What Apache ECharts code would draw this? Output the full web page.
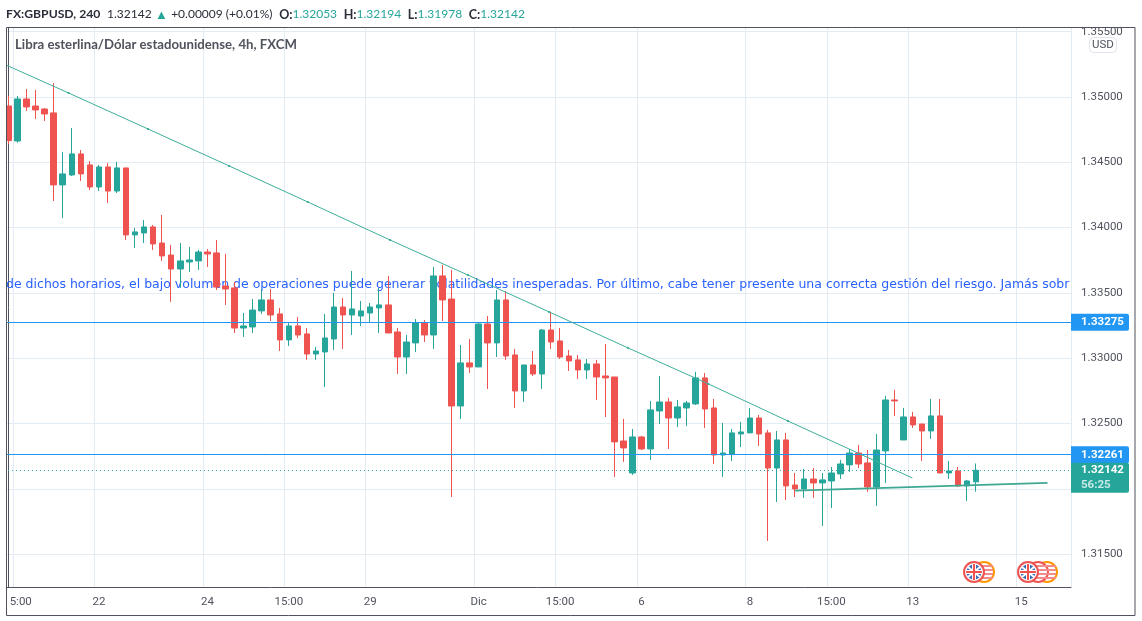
<!DOCTYPE html>
<html>
<head>
<meta charset="utf-8">
<style>
  html, body { margin: 0; padding: 0; background: #fff; }
  #chart { width: 1142px; height: 621px; }
</style>
<script src="https://cdn.jsdelivr.net/npm/echarts@6/dist/echarts.min.js"></script>
</head>
<body>
<div id="chart"></div>
<script>
// velas de 4h, GBPUSD
var opens = [1.34931,1.34663,1.34985,1.34931,1.34908,1.34878,1.34327,1.34403,1.34564,1.34480,1.34311,1.34464,1.34280,1.34457,1.33944,1.33959,1.34005,1.33882,1.33790,1.33683,1.33737,1.33745,1.33813,1.33806,1.33553,1.33538,1.33231,1.33239,1.33362,1.33446,1.33339,1.33140,1.33247,1.33186,1.33032,1.33048,1.33147,1.33392,1.33331,1.33323,1.33346,1.33385,1.33408,1.33201,1.33009,1.33117,1.33270,1.33178,1.33630,1.33453,1.32634,1.32964,1.32933,1.33262,1.33117,1.33446,1.33025,1.32749,1.32948,1.32879,1.33216,1.33132,1.33017,1.32987,1.32910,1.32956,1.32864,1.32856,1.32366,1.32121,1.32397,1.32305,1.32596,1.32665,1.32542,1.32619,1.32650,1.32849,1.32619,1.32259,1.32267,1.32420,1.32428,1.32542,1.32428,1.32159,1.32374,1.32029,1.31999,1.32075,1.32045,1.32060,1.32114,1.32183,1.32274,1.32198,1.32014,1.32290,1.32680,1.32374,1.32550,1.32496,1.32443,1.32558,1.32121,1.32137,1.32022,1.32053];
var closes = [1.34666,1.34985,1.34924,1.34901,1.34870,1.34327,1.34411,1.34564,1.34411,1.34311,1.34464,1.34280,1.34457,1.33944,1.33967,1.34005,1.33875,1.33783,1.33683,1.33745,1.33752,1.33813,1.33798,1.33545,1.33530,1.33231,1.33247,1.33369,1.33446,1.33331,1.33140,1.33247,1.33178,1.33032,1.33055,1.33155,1.33392,1.33331,1.33377,1.33362,1.33392,1.33408,1.33193,1.33009,1.33124,1.33270,1.33178,1.33630,1.33446,1.32634,1.32964,1.32933,1.33262,1.33117,1.33446,1.33017,1.32749,1.32948,1.32879,1.33216,1.33124,1.33009,1.32979,1.32910,1.32956,1.32856,1.32849,1.32359,1.32313,1.32397,1.32305,1.32604,1.32665,1.32542,1.32627,1.32657,1.32849,1.32611,1.32259,1.32274,1.32428,1.32435,1.32542,1.32420,1.32159,1.32374,1.32022,1.31999,1.32075,1.32045,1.32068,1.32121,1.32190,1.32274,1.32190,1.32014,1.32297,1.32680,1.32673,1.32550,1.32489,1.32443,1.32558,1.32121,1.32137,1.32022,1.32060,1.32142];
var lows = [1.34640,1.34650,1.34893,1.34832,1.34816,1.34204,1.34074,1.34395,1.34357,1.34288,1.34280,1.34189,1.34265,1.33905,1.33844,1.33882,1.33829,1.33745,1.33431,1.33538,1.33660,1.33676,1.33699,1.33522,1.33408,1.33193,1.33163,1.33193,1.33339,1.33285,1.33055,1.33094,1.33155,1.32987,1.32987,1.32780,1.33063,1.33071,1.33178,1.33247,1.33277,1.33193,1.33193,1.32879,1.32879,1.33048,1.33124,1.33071,1.33285,1.31937,1.32535,1.32887,1.32933,1.32764,1.33009,1.32987,1.32619,1.32665,1.32864,1.32764,1.33071,1.32994,1.32902,1.32841,1.32841,1.32680,1.32550,1.32091,1.32206,1.32106,1.32297,1.32221,1.32496,1.32305,1.32473,1.32481,1.32642,1.32466,1.32190,1.32091,1.32213,1.32320,1.32428,1.32328,1.31601,1.31899,1.31914,1.31937,1.31930,1.31930,1.31715,1.31853,1.32075,1.32129,1.32159,1.31976,1.31868,1.32045,1.32558,1.32374,1.32466,1.32213,1.32382,1.32121,1.32075,1.32014,1.31907,1.31978];
var highs = [1.35008,1.35008,1.35061,1.35054,1.34916,1.35107,1.34579,1.34763,1.34594,1.34510,1.34480,1.34495,1.34503,1.34457,1.33997,1.34058,1.34020,1.34097,1.33867,1.33882,1.33852,1.33829,1.33836,1.33905,1.33798,1.33584,1.33346,1.33453,1.33530,1.33530,1.33385,1.33277,1.33316,1.33231,1.33086,1.33339,1.33500,1.33461,1.33668,1.33438,1.33423,1.33538,1.33630,1.33231,1.33178,1.33300,1.33293,1.33699,1.33714,1.33676,1.33101,1.33147,1.33270,1.33323,1.33522,1.33515,1.33071,1.32948,1.33055,1.33224,1.33354,1.33231,1.33063,1.33025,1.32994,1.32987,1.33109,1.32856,1.32535,1.32458,1.32405,1.32673,1.32864,1.32696,1.32680,1.32673,1.32895,1.32887,1.32688,1.32504,1.32458,1.32512,1.32619,1.32565,1.32451,1.32443,1.32428,1.32121,1.32152,1.32159,1.32121,1.32167,1.32221,1.32305,1.32336,1.32297,1.32420,1.32711,1.32757,1.32619,1.32589,1.32496,1.32688,1.32688,1.32213,1.32167,1.32068,1.32194];

var barCount = 118; // incluye el hueco a la derecha de la ultima vela
var tickIndexes = [1,10,22,31,40,52,61,70,82,91,100,112];
var tickLabels = ['15:00','22','24','15:00','29','Dic','15:00','6','8','15:00','13','15'];
var priceTicks = [1.315,1.32,1.325,1.33,1.335,1.34,1.345,1.35,1.355];

var supportLevels = [1.33275,1.32261];
var lastPrice = 1.32142;
var countdown = '56:25';

// lineas de tendencia: [indice de vela, precio]
var trendDown = [[-0.27,1.35245],[6.64,1.35031],[15.43,1.34755],[24.4,1.34472],[33.1,1.34196],[42.2,1.33905],[50.8,1.33637],[59.8,1.33354],[68.5,1.33079],[77.4,1.32803],[86.2,1.32519],[99.95,1.32083]];
var trendUp = [[87,1.31986],[114.9,1.32045]];

var headerTitle = '{f|FX:GBPUSD, 240}  {n|1.32142} {u|▲} {n|+0.00009 (+0.01%)}  {b|O:}{g|1.32053}  {b|H:}{g|1.32194}  {b|L:}{g|1.31978}  {b|C:}{g|1.32142}';
var subTitle = 'Libra esterlina/Dólar estadounidense, 4h, FXCM';
var tickerText = 'de dichos horarios, el bajo volumen de operaciones puede generar volatilidades inesperadas. Por último, cabe tener presente una correcta gestión del riesgo. Jamás sobr';

var UP = '#26a69a', DOWN = '#ef5350', BLUE = '#2196f3', GRID = '#e3ecf2', FRAME = '#50535e', LABEL = '#50535e';
var FONT = 'Roboto, sans-serif', HEAD_FONT = 'Lato, sans-serif';

var candles = opens.map(function (o, i) { return [o, closes[i], lows[i], highs[i]]; });
var categories = [];
for (var i = 0; i < barCount; i++) categories.push(i);

function isTick(index) { return tickIndexes.indexOf(index) >= 0; }

// iconos de eventos (UK delante, US detras)
function usFlag(cx, cy, ring) {
  var out = [{ type: 'circle', shape: { cx: cx, cy: cy, r: 10 }, style: { fill: '#fff', stroke: ring, lineWidth: 2 }, z: 60 }];
  [-6, -2, 2, 6].forEach(function (dy) {
    out.push({ type: 'rect', shape: { x: cx - 6, y: cy + dy - 1, width: 15, height: 2 }, style: { fill: '#f28b8b' }, z: 61 });
  });
  return out;
}
function ukFlag(cx, cy) {
  return [
    { type: 'circle', shape: { cx: cx, cy: cy, r: 10 }, style: { fill: '#f4f6fb', stroke: DOWN, lineWidth: 2 }, z: 62 },
    { type: 'circle', shape: { cx: cx, cy: cy, r: 7.5 }, style: { fill: '#3f68b5' }, z: 62 },
    { type: 'line', shape: { x1: cx - 6, y1: cy - 5, x2: cx + 6, y2: cy + 5 }, style: { stroke: '#fff', lineWidth: 2 }, z: 63 },
    { type: 'line', shape: { x1: cx - 6, y1: cy + 5, x2: cx + 6, y2: cy - 5 }, style: { stroke: '#fff', lineWidth: 2 }, z: 63 },
    { type: 'rect', shape: { x: cx - 8, y: cy - 2, width: 16, height: 4 }, style: { fill: '#fff' }, z: 64 },
    { type: 'rect', shape: { x: cx - 2, y: cy - 8, width: 4, height: 16 }, style: { fill: '#fff' }, z: 64 },
    { type: 'rect', shape: { x: cx - 8, y: cy - 1, width: 16, height: 2 }, style: { fill: DOWN }, z: 65 },
    { type: 'rect', shape: { x: cx - 1, y: cy - 8, width: 2, height: 16 }, style: { fill: DOWN }, z: 65 }
  ];
}

var elements = [
  // cinta de texto, por debajo de las velas
  { type: 'text', x: 6, y: 278, z: 1, style: { text: tickerText, fill: '#2962ff', font: '12.5px "DejaVu Sans", sans-serif' } },
  // mascaras para recortar lo que sale del panel
  { type: 'rect', shape: { x: 0, y: 28, width: 6, height: 560 }, style: { fill: '#fff' }, z: 90 },
  { type: 'rect', shape: { x: 0, y: 588, width: 8.5, height: 27 }, style: { fill: '#fff' }, z: 90 },
  { type: 'rect', shape: { x: 1072, y: 0, width: 70, height: 28 }, style: { fill: '#fff' }, z: 90 },
  // marco exterior
  { type: 'rect', shape: { x: 6.5, y: 27.5, width: 1128.5, height: 588 }, style: { fill: 'none', stroke: FRAME, lineWidth: 1 }, z: 95 },
  // etiqueta USD
  { type: 'rect', shape: { x: 1089.5, y: 37.5, width: 27, height: 15, r: 4 }, style: { fill: '#fff', stroke: '#e0e3eb', lineWidth: 1 }, z: 96 },
  { type: 'text', x: 1103, y: 45, z: 97, style: { text: 'USD', fill: LABEL, font: '11.5px ' + FONT, align: 'center', verticalAlign: 'middle' } }
];
elements = elements
  .concat(usFlag(984, 572, '#ff9800'), ukFlag(974, 572))
  .concat(usFlag(1047, 572, '#ff9800'), usFlag(1038, 572, DOWN), ukFlag(1028, 572));

var levelLines = supportLevels.map(function (v) {
  return {
    yAxis: v,
    lineStyle: { color: BLUE, width: 1, type: 'solid' },
    label: {
      position: 'end', distance: 0, formatter: v.toFixed(5),
      backgroundColor: BLUE, color: '#fff', fontFamily: FONT, fontSize: 11.5, fontWeight: 'bold',
      width: 48, height: 17, lineHeight: 17, padding: [0, 0, 0, 10], borderRadius: [0, 2, 2, 0]
    }
  };
});
levelLines.push({
  yAxis: lastPrice,
  lineStyle: { color: UP, width: 1, type: [1, 3] },
  label: {
    position: 'end', distance: 0, offset: [0, 7.5],
    formatter: '{p|' + lastPrice.toFixed(5) + '}\n{t|' + countdown + '}',
    backgroundColor: UP, borderRadius: [0, 2, 2, 0], padding: [0, 0, 0, 10], width: 48, height: 30,
    rich: {
      p: { color: '#fff', fontFamily: FONT, fontSize: 11.5, fontWeight: 'bold', lineHeight: 15 },
      t: { color: '#c8e9e5', fontFamily: FONT, fontSize: 11.5, fontWeight: 'bold', lineHeight: 15 }
    }
  }
});

var option = {
  animation: false,
  backgroundColor: '#fff',
  title: [
    {
      text: headerTitle, left: 1, top: 3,
      textStyle: {
        fontFamily: HEAD_FONT, fontSize: 13, fontWeight: 'normal',
        rich: {
          f: { fontFamily: HEAD_FONT, fontSize: 12.2, fontWeight: 'bold', color: '#2a2e39' },
          b: { fontFamily: HEAD_FONT, fontSize: 12.5, fontWeight: 'bold', color: '#2a2e39' },
          n: { fontFamily: HEAD_FONT, fontSize: 12, color: '#2a2e39' },
          g: { fontFamily: HEAD_FONT, fontSize: 12, color: UP },
          u: { fontFamily: HEAD_FONT, fontSize: 13, color: UP }
        }
      }
    },
    { text: subTitle, left: 10, top: 33, textStyle: { fontFamily: HEAD_FONT, fontSize: 13.2, fontWeight: 'bold', color: '#50535e' } }
  ],
  graphic: { elements: elements },
  grid: { left: 3.95, right: 71, top: 28, bottom: 34, containLabel: false },
  xAxis: [
    {
      type: 'category', data: categories, boundaryGap: true,
      axisLine: { lineStyle: { color: FRAME } },
      axisTick: { show: false },
      splitLine: { show: true, interval: function (i) { return isTick(i); }, lineStyle: { color: GRID, width: 1 } },
      axisLabel: {
        interval: function (i) { return isTick(i); },
        formatter: function (v, i) { return tickLabels[tickIndexes.indexOf(i)] || ''; },
        color: LABEL, fontFamily: FONT, fontSize: 11.5, margin: 9
      }
    },
    { type: 'value', min: -0.5, max: barCount - 0.5, show: false, splitLine: { show: false } }
  ],
  yAxis: {
    type: 'value', position: 'right', scale: true, min: 1.31248, max: 1.355283,
    axisLine: { show: true, lineStyle: { color: FRAME } },
    axisTick: { show: false, customValues: priceTicks },
    splitLine: { show: true, lineStyle: { color: GRID, width: 1 } },
    axisLabel: {
      customValues: priceTicks, color: LABEL, fontFamily: FONT, fontSize: 11.5, margin: 10,
      showMinLabel: true, showMaxLabel: true,
      formatter: function (v) { return v.toFixed(5); }
    }
  },
  series: [
    {
      type: 'candlestick', data: candles, barWidth: 6,
      itemStyle: { color: UP, color0: DOWN, borderColor: UP, borderColor0: DOWN, borderWidth: 1 },
      markLine: { silent: true, symbol: 'none', animation: false, precision: 5, data: levelLines }
    },
    {
      type: 'line', xAxisIndex: 1, data: trendDown, z: 5, showSymbol: true, symbol: 'rect',
      symbolSize: function (v, p) { return p.dataIndex === 0 || p.dataIndex === trendDown.length - 1 ? 0 : 2; },
      lineStyle: { color: '#3fae9c', width: 1 }, itemStyle: { color: '#3fae9c' }
    },
    {
      type: 'line', xAxisIndex: 1, data: trendUp, z: 5, symbol: 'none',
      lineStyle: { color: '#3ea893', width: 1.6 }
    }
  ]
};

var chart = echarts.init(document.getElementById('chart'));
chart.setOption(option);
</script>
</body>
</html>
